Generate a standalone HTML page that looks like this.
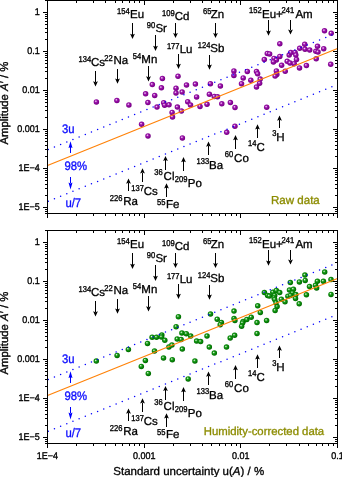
<!DOCTYPE html>
<html><head><meta charset="utf-8"><style>
html,body{margin:0;padding:0;background:#fff;width:342px;height:477px;overflow:hidden}
svg{display:block;will-change:transform}
text{font-family:"Liberation Sans", sans-serif;fill:#000;stroke:#000;stroke-width:0.32px;text-rendering:geometricPrecision}
</style></head><body>
<svg width="342" height="477" viewBox="0 0 342 477">
<defs>
<radialGradient id="gp" cx="0.45" cy="0.45" r="0.58" fx="0.38" fy="0.36">
<stop offset="0" stop-color="#fff0ff"/><stop offset="0.16" stop-color="#d890e0"/><stop offset="0.38" stop-color="#9a18aa"/><stop offset="0.8" stop-color="#820090"/><stop offset="1" stop-color="#6a0078"/>
</radialGradient>
<radialGradient id="gg" cx="0.45" cy="0.45" r="0.58" fx="0.38" fy="0.36">
<stop offset="0" stop-color="#f4fff4"/><stop offset="0.16" stop-color="#90d090"/><stop offset="0.38" stop-color="#189818"/><stop offset="0.8" stop-color="#007800"/><stop offset="1" stop-color="#005800"/>
</radialGradient>
</defs>
<g fill="url(#gp)"><circle cx="96.4" cy="101.9" r="2.75"/><circle cx="116.9" cy="100.5" r="2.75"/><circle cx="128.9" cy="104.9" r="2.75"/><circle cx="141.6" cy="124.2" r="2.75"/><circle cx="148.0" cy="135.9" r="2.75"/><circle cx="162.4" cy="78.5" r="2.75"/><circle cx="178" cy="76.2" r="2.75"/><circle cx="152.3" cy="84.6" r="2.75"/><circle cx="161.4" cy="87.8" r="2.75"/><circle cx="176" cy="88.2" r="2.75"/><circle cx="186.5" cy="85" r="2.75"/><circle cx="195.4" cy="84.1" r="2.75"/><circle cx="145.6" cy="93.8" r="2.75"/><circle cx="154.7" cy="95.4" r="2.75"/><circle cx="176" cy="92.9" r="2.75"/><circle cx="182.1" cy="92" r="2.75"/><circle cx="196.6" cy="96.9" r="2.75"/><circle cx="147.9" cy="102.5" r="2.75"/><circle cx="163.7" cy="102.7" r="2.75"/><circle cx="164.6" cy="105.2" r="2.75"/><circle cx="169" cy="104.8" r="2.75"/><circle cx="157" cy="107.1" r="2.75"/><circle cx="187.7" cy="101.7" r="2.75"/><circle cx="190.5" cy="105" r="2.75"/><circle cx="177.4" cy="107.1" r="2.75"/><circle cx="181.4" cy="111" r="2.75"/><circle cx="172.1" cy="112.4" r="2.75"/><circle cx="172.5" cy="117.1" r="2.75"/><circle cx="200" cy="106.5" r="2.75"/><circle cx="210.4" cy="83.7" r="2.75"/><circle cx="220.4" cy="86" r="2.75"/><circle cx="233.9" cy="70.9" r="2.75"/><circle cx="233.9" cy="75.4" r="2.75"/><circle cx="247.3" cy="71.4" r="2.75"/><circle cx="243.2" cy="77.9" r="2.75"/><circle cx="250.8" cy="80.2" r="2.75"/><circle cx="241.5" cy="83.7" r="2.75"/><circle cx="209.4" cy="94.2" r="2.75"/><circle cx="214.3" cy="96.5" r="2.75"/><circle cx="217.5" cy="96.8" r="2.75"/><circle cx="207" cy="104.2" r="2.75"/><circle cx="221.8" cy="103.8" r="2.75"/><circle cx="230.4" cy="102.5" r="2.75"/><circle cx="235" cy="107.5" r="2.75"/><circle cx="256.5" cy="87" r="2.75"/><circle cx="256.5" cy="71.5" r="2.75"/><circle cx="257.6" cy="73.8" r="2.75"/><circle cx="279.8" cy="43.8" r="2.75"/><circle cx="267.3" cy="53.5" r="2.75"/><circle cx="269.6" cy="53.9" r="2.75"/><circle cx="264.3" cy="59.6" r="2.75"/><circle cx="274" cy="58.4" r="2.75"/><circle cx="279.8" cy="56.4" r="2.75"/><circle cx="276.3" cy="60.1" r="2.75"/><circle cx="273.4" cy="61.9" r="2.75"/><circle cx="289.2" cy="55" r="2.75"/><circle cx="287.2" cy="61.3" r="2.75"/><circle cx="281.6" cy="65.2" r="2.75"/><circle cx="276.4" cy="70.9" r="2.75"/><circle cx="285.2" cy="71.3" r="2.75"/><circle cx="324.5" cy="30.8" r="2.75"/><circle cx="331.2" cy="33.3" r="2.75"/><circle cx="304.7" cy="44.2" r="2.75"/><circle cx="299.7" cy="48.3" r="2.75"/><circle cx="305" cy="49.2" r="2.75"/><circle cx="309.7" cy="50" r="2.75"/><circle cx="317.5" cy="46.2" r="2.75"/><circle cx="315.8" cy="51.3" r="2.75"/><circle cx="318" cy="52" r="2.75"/><circle cx="323.7" cy="48.7" r="2.75"/><circle cx="290.8" cy="52.5" r="2.75"/><circle cx="295" cy="52.5" r="2.75"/><circle cx="295.8" cy="55" r="2.75"/><circle cx="296.5" cy="59.5" r="2.75"/><circle cx="290" cy="63" r="2.75"/><circle cx="294.2" cy="63.7" r="2.75"/><circle cx="299.5" cy="67.9" r="2.75"/><circle cx="306.4" cy="65.5" r="2.75"/><circle cx="316.2" cy="58.8" r="2.75"/><circle cx="330.7" cy="64.3" r="2.75"/><circle cx="260.2" cy="79.1" r="2.75"/><circle cx="259.6" cy="83.2" r="2.75"/><circle cx="276.8" cy="74.4" r="2.75"/><circle cx="275.1" cy="76.1" r="2.75"/><circle cx="266.7" cy="107.2" r="2.75"/><circle cx="234.9" cy="126.2" r="2.75"/><circle cx="226.7" cy="132.3" r="2.75"/><circle cx="182.4" cy="137.9" r="2.75"/></g>
<line x1="47.5" y1="165.50" x2="337.5" y2="48.50" stroke="#ff8208" stroke-width="1.2"/>
<g fill="#0000ff"><circle cx="48.30" cy="149.38" r="0.75"/><circle cx="54.46" cy="146.89" r="0.75"/><circle cx="60.63" cy="144.40" r="0.75"/><circle cx="66.80" cy="141.92" r="0.75"/><circle cx="72.96" cy="139.43" r="0.75"/><circle cx="79.12" cy="136.94" r="0.75"/><circle cx="85.29" cy="134.45" r="0.75"/><circle cx="91.45" cy="131.97" r="0.75"/><circle cx="97.62" cy="129.48" r="0.75"/><circle cx="103.78" cy="126.99" r="0.75"/><circle cx="109.95" cy="124.50" r="0.75"/><circle cx="116.11" cy="122.02" r="0.75"/><circle cx="122.28" cy="119.53" r="0.75"/><circle cx="128.44" cy="117.04" r="0.75"/><circle cx="134.61" cy="114.56" r="0.75"/><circle cx="140.77" cy="112.07" r="0.75"/><circle cx="146.94" cy="109.58" r="0.75"/><circle cx="153.11" cy="107.09" r="0.75"/><circle cx="159.27" cy="104.61" r="0.75"/><circle cx="165.44" cy="102.12" r="0.75"/><circle cx="171.60" cy="99.63" r="0.75"/><circle cx="177.76" cy="97.14" r="0.75"/><circle cx="183.93" cy="94.66" r="0.75"/><circle cx="190.09" cy="92.17" r="0.75"/><circle cx="196.26" cy="89.68" r="0.75"/><circle cx="202.43" cy="87.20" r="0.75"/><circle cx="208.59" cy="84.71" r="0.75"/><circle cx="214.75" cy="82.22" r="0.75"/><circle cx="220.92" cy="79.73" r="0.75"/><circle cx="227.08" cy="77.25" r="0.75"/><circle cx="233.25" cy="74.76" r="0.75"/><circle cx="239.42" cy="72.27" r="0.75"/><circle cx="245.58" cy="69.78" r="0.75"/><circle cx="251.75" cy="67.30" r="0.75"/><circle cx="257.91" cy="64.81" r="0.75"/><circle cx="264.07" cy="62.32" r="0.75"/><circle cx="270.24" cy="59.84" r="0.75"/><circle cx="276.40" cy="57.35" r="0.75"/><circle cx="282.57" cy="54.86" r="0.75"/><circle cx="288.74" cy="52.37" r="0.75"/><circle cx="294.90" cy="49.89" r="0.75"/><circle cx="301.06" cy="47.40" r="0.75"/><circle cx="307.23" cy="44.91" r="0.75"/><circle cx="313.40" cy="42.43" r="0.75"/><circle cx="319.56" cy="39.94" r="0.75"/><circle cx="325.73" cy="37.45" r="0.75"/><circle cx="331.89" cy="34.96" r="0.75"/><circle cx="48.30" cy="201.28" r="0.75"/><circle cx="54.46" cy="198.79" r="0.75"/><circle cx="60.63" cy="196.30" r="0.75"/><circle cx="66.80" cy="193.82" r="0.75"/><circle cx="72.96" cy="191.33" r="0.75"/><circle cx="79.12" cy="188.84" r="0.75"/><circle cx="85.29" cy="186.35" r="0.75"/><circle cx="91.45" cy="183.87" r="0.75"/><circle cx="97.62" cy="181.38" r="0.75"/><circle cx="103.78" cy="178.89" r="0.75"/><circle cx="109.95" cy="176.40" r="0.75"/><circle cx="116.11" cy="173.92" r="0.75"/><circle cx="122.28" cy="171.43" r="0.75"/><circle cx="128.44" cy="168.94" r="0.75"/><circle cx="134.61" cy="166.46" r="0.75"/><circle cx="140.77" cy="163.97" r="0.75"/><circle cx="146.94" cy="161.48" r="0.75"/><circle cx="153.11" cy="158.99" r="0.75"/><circle cx="159.27" cy="156.51" r="0.75"/><circle cx="165.44" cy="154.02" r="0.75"/><circle cx="171.60" cy="151.53" r="0.75"/><circle cx="177.76" cy="149.04" r="0.75"/><circle cx="183.93" cy="146.56" r="0.75"/><circle cx="190.09" cy="144.07" r="0.75"/><circle cx="196.26" cy="141.58" r="0.75"/><circle cx="202.43" cy="139.10" r="0.75"/><circle cx="208.59" cy="136.61" r="0.75"/><circle cx="214.75" cy="134.12" r="0.75"/><circle cx="220.92" cy="131.63" r="0.75"/><circle cx="227.08" cy="129.15" r="0.75"/><circle cx="233.25" cy="126.66" r="0.75"/><circle cx="239.42" cy="124.17" r="0.75"/><circle cx="245.58" cy="121.68" r="0.75"/><circle cx="251.75" cy="119.20" r="0.75"/><circle cx="257.91" cy="116.71" r="0.75"/><circle cx="264.07" cy="114.22" r="0.75"/><circle cx="270.24" cy="111.74" r="0.75"/><circle cx="276.40" cy="109.25" r="0.75"/><circle cx="282.57" cy="106.76" r="0.75"/><circle cx="288.74" cy="104.27" r="0.75"/><circle cx="294.90" cy="101.79" r="0.75"/><circle cx="301.06" cy="99.30" r="0.75"/><circle cx="307.23" cy="96.81" r="0.75"/><circle cx="313.40" cy="94.33" r="0.75"/><circle cx="319.56" cy="91.84" r="0.75"/><circle cx="325.73" cy="89.35" r="0.75"/><circle cx="331.89" cy="86.86" r="0.75"/></g>
<rect x="47.5" y="0.5" width="290.0" height="213.0" fill="none" stroke="#000" stroke-width="1" shape-rendering="crispEdges"/>
<path d="M47.5 213.5v4.5M47.5 0.5v4.5M76.5 213.5v2.5M76.5 0.5v2.5M93.5 213.5v2.5M93.5 0.5v2.5M105.5 213.5v2.5M105.5 0.5v2.5M115.5 213.5v2.5M115.5 0.5v2.5M122.5 213.5v2.5M122.5 0.5v2.5M129.5 213.5v2.5M129.5 0.5v2.5M134.5 213.5v2.5M134.5 0.5v2.5M139.5 213.5v2.5M139.5 0.5v2.5M144.5 213.5v4.5M144.5 0.5v4.5M173.5 213.5v2.5M173.5 0.5v2.5M190.5 213.5v2.5M190.5 0.5v2.5M202.5 213.5v2.5M202.5 0.5v2.5M211.5 213.5v2.5M211.5 0.5v2.5M219.5 213.5v2.5M219.5 0.5v2.5M225.5 213.5v2.5M225.5 0.5v2.5M231.5 213.5v2.5M231.5 0.5v2.5M236.5 213.5v2.5M236.5 0.5v2.5M240.5 213.5v4.5M240.5 0.5v4.5M269.5 213.5v2.5M269.5 0.5v2.5M286.5 213.5v2.5M286.5 0.5v2.5M299.5 213.5v2.5M299.5 0.5v2.5M308.5 213.5v2.5M308.5 0.5v2.5M316.5 213.5v2.5M316.5 0.5v2.5M322.5 213.5v2.5M322.5 0.5v2.5M328.5 213.5v2.5M328.5 0.5v2.5M333.5 213.5v2.5M333.5 0.5v2.5M337.5 213.5v4.5M337.5 0.5v4.5M47.5 213.5h-2.5M337.5 213.5h-2.5M47.5 211.5h-2.5M337.5 211.5h-2.5M47.5 209.5h-2.5M337.5 209.5h-2.5M47.5 207.5h-4.5M337.5 207.5h-4.5M47.5 195.5h-2.5M337.5 195.5h-2.5M47.5 188.5h-2.5M337.5 188.5h-2.5M47.5 184.5h-2.5M337.5 184.5h-2.5M47.5 180.5h-2.5M337.5 180.5h-2.5M47.5 177.5h-2.5M337.5 177.5h-2.5M47.5 174.5h-2.5M337.5 174.5h-2.5M47.5 172.5h-2.5M337.5 172.5h-2.5M47.5 170.5h-2.5M337.5 170.5h-2.5M47.5 168.5h-4.5M337.5 168.5h-4.5M47.5 156.5h-2.5M337.5 156.5h-2.5M47.5 149.5h-2.5M337.5 149.5h-2.5M47.5 145.5h-2.5M337.5 145.5h-2.5M47.5 141.5h-2.5M337.5 141.5h-2.5M47.5 138.5h-2.5M337.5 138.5h-2.5M47.5 135.5h-2.5M337.5 135.5h-2.5M47.5 133.5h-2.5M337.5 133.5h-2.5M47.5 131.5h-2.5M337.5 131.5h-2.5M47.5 129.5h-4.5M337.5 129.5h-4.5M47.5 117.5h-2.5M337.5 117.5h-2.5M47.5 110.5h-2.5M337.5 110.5h-2.5M47.5 106.5h-2.5M337.5 106.5h-2.5M47.5 102.5h-2.5M337.5 102.5h-2.5M47.5 99.5h-2.5M337.5 99.5h-2.5M47.5 96.5h-2.5M337.5 96.5h-2.5M47.5 94.5h-2.5M337.5 94.5h-2.5M47.5 92.5h-2.5M337.5 92.5h-2.5M47.5 90.5h-4.5M337.5 90.5h-4.5M47.5 78.5h-2.5M337.5 78.5h-2.5M47.5 71.5h-2.5M337.5 71.5h-2.5M47.5 67.5h-2.5M337.5 67.5h-2.5M47.5 63.5h-2.5M337.5 63.5h-2.5M47.5 60.5h-2.5M337.5 60.5h-2.5M47.5 57.5h-2.5M337.5 57.5h-2.5M47.5 55.5h-2.5M337.5 55.5h-2.5M47.5 53.5h-2.5M337.5 53.5h-2.5M47.5 51.5h-4.5M337.5 51.5h-4.5M47.5 39.5h-2.5M337.5 39.5h-2.5M47.5 32.5h-2.5M337.5 32.5h-2.5M47.5 28.5h-2.5M337.5 28.5h-2.5M47.5 24.5h-2.5M337.5 24.5h-2.5M47.5 21.5h-2.5M337.5 21.5h-2.5M47.5 18.5h-2.5M337.5 18.5h-2.5M47.5 16.5h-2.5M337.5 16.5h-2.5M47.5 14.5h-2.5M337.5 14.5h-2.5M47.5 12.5h-4.5M337.5 12.5h-4.5M47.5 0.5h-2.5M337.5 0.5h-2.5" stroke="#000" stroke-width="1" fill="none" shape-rendering="crispEdges"/>
<text transform="translate(39.7 15.00) scale(1 1.08)" text-anchor="end" font-size="9">1</text>
<text transform="translate(39.7 54.00) scale(1 1.08)" text-anchor="end" font-size="9">0.1</text>
<text transform="translate(39.7 93.00) scale(1 1.08)" text-anchor="end" font-size="9">0.01</text>
<text transform="translate(39.7 132.00) scale(1 1.08)" text-anchor="end" font-size="9">0.001</text>
<text transform="translate(39.7 171.00) scale(1 1.08)" text-anchor="end" font-size="9">1E−4</text>
<text transform="translate(39.7 210.00) scale(1 1.08)" text-anchor="end" font-size="9">1E−5</text>
<text transform="translate(8.4 103.1) rotate(-90)" text-anchor="middle" font-size="11.35">Amplitude <tspan font-style="italic">A</tspan>′ / %</text>
<text x="319.8" y="204.0" text-anchor="end" font-size="11.55" style="fill:#8c8c00;stroke:#8c8c00">Raw data</text>
<text transform="translate(117.10 13.60) scale(1 1.12)" font-size="7.6">154</text>
<text x="130.00" y="18.20" font-size="11.5">Eu</text>
<text transform="translate(146.80 27.60) scale(1 1.12)" font-size="7.6">90</text>
<text x="155.40" y="32.00" font-size="11.5">Sr</text>
<text transform="translate(162.00 15.60) scale(1 1.12)" font-size="7.6">109</text>
<text x="174.70" y="19.70" font-size="11.5">Cd</text>
<text transform="translate(203.00 13.60) scale(1 1.12)" font-size="7.6">65</text>
<text x="210.80" y="17.50" font-size="11.5">Zn</text>
<text transform="translate(166.90 49.20) scale(1 1.12)" font-size="7.6">177</text>
<text x="179.70" y="53.10" font-size="11.5">Lu</text>
<text transform="translate(197.70 48.10) scale(1 1.12)" font-size="7.6">124</text>
<text x="210.30" y="52.40" font-size="11.5">Sb</text>
<text transform="translate(249.10 12.70) scale(1 1.12)" font-size="7.6">152</text>
<text x="262.00" y="17.70" font-size="11.5">Eu+</text>
<text transform="translate(281.50 13.00) scale(1 1.12)" font-size="7.6">241</text>
<text x="295.40" y="17.80" font-size="11.5">Am</text>
<text transform="translate(78.60 61.70) scale(1 1.12)" font-size="7.6">134</text>
<text x="90.90" y="66.00" font-size="11.5">Cs</text>
<text transform="translate(104.20 60.80) scale(1 1.12)" font-size="7.6">22</text>
<text x="113.40" y="64.20" font-size="11.5">Na</text>
<text transform="translate(132.70 58.80) scale(1 1.12)" font-size="7.6">54</text>
<text x="141.30" y="62.60" font-size="11.5">Mn</text>
<text transform="translate(196.50 164.10) scale(1 1.12)" font-size="7.6">133</text>
<text x="209.00" y="168.70" font-size="11.5">Ba</text>
<text transform="translate(224.70 157.30) scale(1 1.12)" font-size="7.6">60</text>
<text x="234.10" y="161.60" font-size="11.5">Co</text>
<text transform="translate(248.10 145.90) scale(1 1.12)" font-size="7.6">14</text>
<text x="256.50" y="151.00" font-size="11.5">C</text>
<text transform="translate(272.20 136.10) scale(1 1.12)" font-size="7.6">3</text>
<text x="276.20" y="140.50" font-size="11.5">H</text>
<text transform="translate(109.80 201.30) scale(1 1.12)" font-size="7.6">226</text>
<text x="123.30" y="204.80" font-size="11.5">Ra</text>
<text transform="translate(131.20 190.80) scale(1 1.12)" font-size="7.6">137</text>
<text x="143.80" y="194.70" font-size="11.5">Cs</text>
<text transform="translate(154.20 175.40) scale(1 1.12)" font-size="7.6">36</text>
<text x="163.60" y="179.50" font-size="11.5">Cl</text>
<text transform="translate(174.80 182.30) scale(1 1.12)" font-size="7.6">209</text>
<text x="187.80" y="187.10" font-size="11.5">Po</text>
<text transform="translate(157.10 204.60) scale(1 1.12)" font-size="7.6">55</text>
<text x="165.90" y="208.40" font-size="11.5">Fe</text>
<line x1="132.5" y1="23.00" x2="132.5" y2="34.80" stroke="#000" stroke-width="1" shape-rendering="crispEdges"/><path d="M132.5 39.00L130.10 33.80L132.5 34.80L134.90 33.80Z" fill="#000"/>
<line x1="155.5" y1="34.80" x2="155.5" y2="46.70" stroke="#000" stroke-width="1" shape-rendering="crispEdges"/><path d="M155.5 50.90L153.10 45.70L155.5 46.70L157.90 45.70Z" fill="#000"/>
<line x1="175.5" y1="23.00" x2="175.5" y2="33.90" stroke="#000" stroke-width="1" shape-rendering="crispEdges"/><path d="M175.5 38.10L173.10 32.90L175.5 33.90L177.90 32.90Z" fill="#000"/>
<line x1="215.5" y1="23.00" x2="215.5" y2="33.90" stroke="#000" stroke-width="1" shape-rendering="crispEdges"/><path d="M215.5 38.10L213.10 32.90L215.5 33.90L217.90 32.90Z" fill="#000"/>
<line x1="178.5" y1="53.80" x2="178.5" y2="64.70" stroke="#000" stroke-width="1" shape-rendering="crispEdges"/><path d="M178.5 68.90L176.10 63.70L178.5 64.70L180.90 63.70Z" fill="#000"/>
<line x1="209.5" y1="55.00" x2="209.5" y2="65.50" stroke="#000" stroke-width="1" shape-rendering="crispEdges"/><path d="M209.5 69.70L207.10 64.50L209.5 65.50L211.90 64.50Z" fill="#000"/>
<line x1="268.5" y1="19.90" x2="268.5" y2="31.50" stroke="#000" stroke-width="1" shape-rendering="crispEdges"/><path d="M268.5 35.70L266.10 30.50L268.5 31.50L270.90 30.50Z" fill="#000"/>
<line x1="290.5" y1="19.90" x2="290.5" y2="30.40" stroke="#000" stroke-width="1" shape-rendering="crispEdges"/><path d="M290.5 34.60L288.10 29.40L290.5 30.40L292.90 29.40Z" fill="#000"/>
<line x1="95.5" y1="71.00" x2="95.5" y2="82.30" stroke="#000" stroke-width="1" shape-rendering="crispEdges"/><path d="M95.5 86.50L93.10 81.30L95.5 82.30L97.90 81.30Z" fill="#000"/>
<line x1="117.5" y1="69.00" x2="117.5" y2="79.60" stroke="#000" stroke-width="1" shape-rendering="crispEdges"/><path d="M117.5 83.80L115.10 78.60L117.5 79.60L119.90 78.60Z" fill="#000"/>
<line x1="148.5" y1="66.30" x2="148.5" y2="77.30" stroke="#000" stroke-width="1" shape-rendering="crispEdges"/><path d="M148.5 81.50L146.10 76.30L148.5 77.30L150.90 76.30Z" fill="#000"/>
<line x1="208.5" y1="154.80" x2="208.5" y2="145.70" stroke="#000" stroke-width="1" shape-rendering="crispEdges"/><path d="M208.5 141.50L206.10 146.70L208.5 145.70L210.90 146.70Z" fill="#000"/>
<line x1="235.5" y1="149.00" x2="235.5" y2="139.20" stroke="#000" stroke-width="1" shape-rendering="crispEdges"/><path d="M235.5 135.00L233.10 140.20L235.5 139.20L237.90 140.20Z" fill="#000"/>
<line x1="257.5" y1="137.70" x2="257.5" y2="128.40" stroke="#000" stroke-width="1" shape-rendering="crispEdges"/><path d="M257.5 124.20L255.10 129.40L257.5 128.40L259.90 129.40Z" fill="#000"/>
<line x1="279.5" y1="128.40" x2="279.5" y2="119.80" stroke="#000" stroke-width="1" shape-rendering="crispEdges"/><path d="M279.5 115.60L277.10 120.80L279.5 119.80L281.90 120.80Z" fill="#000"/>
<line x1="128.5" y1="191.40" x2="128.5" y2="182.70" stroke="#000" stroke-width="1" shape-rendering="crispEdges"/><path d="M128.5 178.50L126.10 183.70L128.5 182.70L130.90 183.70Z" fill="#000"/>
<line x1="142.5" y1="181.70" x2="142.5" y2="172.50" stroke="#000" stroke-width="1" shape-rendering="crispEdges"/><path d="M142.5 168.30L140.10 173.50L142.5 172.50L144.90 173.50Z" fill="#000"/>
<line x1="165.5" y1="169.60" x2="165.5" y2="160.10" stroke="#000" stroke-width="1" shape-rendering="crispEdges"/><path d="M165.5 155.90L163.10 161.10L165.5 160.10L167.90 161.10Z" fill="#000"/>
<line x1="183.5" y1="170.60" x2="183.5" y2="161.20" stroke="#000" stroke-width="1" shape-rendering="crispEdges"/><path d="M183.5 157.00L181.10 162.20L183.5 161.20L185.90 162.20Z" fill="#000"/>
<line x1="166.5" y1="196.60" x2="166.5" y2="187.40" stroke="#000" stroke-width="1" shape-rendering="crispEdges"/><path d="M166.5 183.20L164.10 188.40L166.5 187.40L168.90 188.40Z" fill="#000"/>
<text transform="translate(62.0 132.5) scale(1 1.1)" font-size="11.3" style="fill:#1010ff;stroke:#1010ff">3u</text>
<text transform="translate(64.5 169.5) scale(1 1.1)" font-size="11.3" style="fill:#1010ff;stroke:#1010ff">98%</text>
<text transform="translate(65.4 206.8) scale(1 1.1)" font-size="11.3" style="fill:#1010ff;stroke:#1010ff">u/7</text>
<line x1="70.5" y1="153.00" x2="70.5" y2="147.30" stroke="#0000ff" stroke-width="1" shape-rendering="crispEdges"/><path d="M70.5 141.30L68.50 148.10L70.5 147.30L72.50 148.10Z" fill="#0000ff"/>
<line x1="70.5" y1="176.70" x2="70.5" y2="183.40" stroke="#0000ff" stroke-width="1" shape-rendering="crispEdges"/><path d="M70.5 189.40L68.50 182.60L70.5 183.40L72.50 182.60Z" fill="#0000ff"/>
<g fill="url(#gg)"><circle cx="96.3" cy="361.1" r="2.75"/><circle cx="117.1" cy="355.4" r="2.75"/><circle cx="128.4" cy="349.4" r="2.75"/><circle cx="147.5" cy="343.4" r="2.75"/><circle cx="152.1" cy="337.2" r="2.75"/><circle cx="156.5" cy="337.2" r="2.75"/><circle cx="161.8" cy="335" r="2.75"/><circle cx="161.5" cy="337" r="2.75"/><circle cx="164.8" cy="340.3" r="2.75"/><circle cx="154.5" cy="351" r="2.75"/><circle cx="168.9" cy="347.1" r="2.75"/><circle cx="163.5" cy="358" r="2.75"/><circle cx="145.4" cy="360.4" r="2.75"/><circle cx="141.3" cy="366.4" r="2.75"/><circle cx="148.3" cy="373.4" r="2.75"/><circle cx="178.4" cy="316.7" r="2.75"/><circle cx="176.1" cy="326.7" r="2.75"/><circle cx="210.5" cy="314" r="2.75"/><circle cx="217.2" cy="319.2" r="2.75"/><circle cx="221.4" cy="322.5" r="2.75"/><circle cx="220.2" cy="324.7" r="2.75"/><circle cx="181.9" cy="333" r="2.75"/><circle cx="186.3" cy="333.7" r="2.75"/><circle cx="190.7" cy="336" r="2.75"/><circle cx="177.2" cy="339" r="2.75"/><circle cx="181.1" cy="339.5" r="2.75"/><circle cx="207" cy="336" r="2.75"/><circle cx="196.6" cy="341" r="2.75"/><circle cx="200.6" cy="341.6" r="2.75"/><circle cx="171.9" cy="345" r="2.75"/><circle cx="182.3" cy="349.1" r="2.75"/><circle cx="209.3" cy="347.1" r="2.75"/><circle cx="214.3" cy="353.1" r="2.75"/><circle cx="172.3" cy="359.7" r="2.75"/><circle cx="194.9" cy="361" r="2.75"/><circle cx="226.5" cy="347.1" r="2.75"/><circle cx="188.2" cy="378.9" r="2.75"/><circle cx="264.4" cy="292.6" r="2.75"/><circle cx="267.6" cy="295.4" r="2.75"/><circle cx="269.3" cy="296.1" r="2.75"/><circle cx="234" cy="311.1" r="2.75"/><circle cx="257.7" cy="305.8" r="2.75"/><circle cx="260.3" cy="312.5" r="2.75"/><circle cx="277.1" cy="306.4" r="2.75"/><circle cx="275.1" cy="310.5" r="2.75"/><circle cx="234" cy="318.6" r="2.75"/><circle cx="234.9" cy="320.4" r="2.75"/><circle cx="243.1" cy="321.5" r="2.75"/><circle cx="242.5" cy="323" r="2.75"/><circle cx="246.8" cy="319.5" r="2.75"/><circle cx="251.2" cy="317.2" r="2.75"/><circle cx="241.6" cy="326.2" r="2.75"/><circle cx="257" cy="322.6" r="2.75"/><circle cx="266.6" cy="320.5" r="2.75"/><circle cx="257" cy="333.5" r="2.75"/><circle cx="234.6" cy="335.3" r="2.75"/><circle cx="230.2" cy="338" r="2.75"/><circle cx="290.3" cy="282.6" r="2.75"/><circle cx="272.8" cy="292.2" r="2.75"/><circle cx="276.3" cy="290.5" r="2.75"/><circle cx="279.7" cy="292.6" r="2.75"/><circle cx="274.7" cy="295.5" r="2.75"/><circle cx="274.1" cy="297.9" r="2.75"/><circle cx="274.7" cy="299.5" r="2.75"/><circle cx="281.3" cy="299.2" r="2.75"/><circle cx="285" cy="301.8" r="2.75"/><circle cx="289.5" cy="290" r="2.75"/><circle cx="293.4" cy="289.2" r="2.75"/><circle cx="292.5" cy="292.9" r="2.75"/><circle cx="287.9" cy="296.2" r="2.75"/><circle cx="290.5" cy="295.5" r="2.75"/><circle cx="295.8" cy="294.6" r="2.75"/><circle cx="295.5" cy="298.4" r="2.75"/><circle cx="276" cy="302.8" r="2.75"/><circle cx="299.2" cy="303.8" r="2.75"/><circle cx="324.7" cy="272" r="2.75"/><circle cx="304.9" cy="275.1" r="2.75"/><circle cx="305.2" cy="280.4" r="2.75"/><circle cx="299.4" cy="281.9" r="2.75"/><circle cx="317.4" cy="281.2" r="2.75"/><circle cx="323.4" cy="281.2" r="2.75"/><circle cx="331" cy="279.6" r="2.75"/><circle cx="309.5" cy="286.5" r="2.75"/><circle cx="315.5" cy="285.3" r="2.75"/><circle cx="316.6" cy="288" r="2.75"/><circle cx="306.4" cy="294.8" r="2.75"/><circle cx="331" cy="294.4" r="2.75"/></g>
<line x1="47.5" y1="395.50" x2="337.5" y2="278.50" stroke="#ff8208" stroke-width="1.2"/>
<g fill="#0000ff"><circle cx="48.30" cy="379.38" r="0.75"/><circle cx="54.46" cy="376.89" r="0.75"/><circle cx="60.63" cy="374.40" r="0.75"/><circle cx="66.80" cy="371.92" r="0.75"/><circle cx="72.96" cy="369.43" r="0.75"/><circle cx="79.12" cy="366.94" r="0.75"/><circle cx="85.29" cy="364.45" r="0.75"/><circle cx="91.45" cy="361.97" r="0.75"/><circle cx="97.62" cy="359.48" r="0.75"/><circle cx="103.78" cy="356.99" r="0.75"/><circle cx="109.95" cy="354.50" r="0.75"/><circle cx="116.11" cy="352.02" r="0.75"/><circle cx="122.28" cy="349.53" r="0.75"/><circle cx="128.44" cy="347.04" r="0.75"/><circle cx="134.61" cy="344.56" r="0.75"/><circle cx="140.77" cy="342.07" r="0.75"/><circle cx="146.94" cy="339.58" r="0.75"/><circle cx="153.11" cy="337.09" r="0.75"/><circle cx="159.27" cy="334.61" r="0.75"/><circle cx="165.44" cy="332.12" r="0.75"/><circle cx="171.60" cy="329.63" r="0.75"/><circle cx="177.76" cy="327.14" r="0.75"/><circle cx="183.93" cy="324.66" r="0.75"/><circle cx="190.09" cy="322.17" r="0.75"/><circle cx="196.26" cy="319.68" r="0.75"/><circle cx="202.43" cy="317.20" r="0.75"/><circle cx="208.59" cy="314.71" r="0.75"/><circle cx="214.75" cy="312.22" r="0.75"/><circle cx="220.92" cy="309.73" r="0.75"/><circle cx="227.08" cy="307.25" r="0.75"/><circle cx="233.25" cy="304.76" r="0.75"/><circle cx="239.42" cy="302.27" r="0.75"/><circle cx="245.58" cy="299.78" r="0.75"/><circle cx="251.75" cy="297.30" r="0.75"/><circle cx="257.91" cy="294.81" r="0.75"/><circle cx="264.07" cy="292.32" r="0.75"/><circle cx="270.24" cy="289.84" r="0.75"/><circle cx="276.40" cy="287.35" r="0.75"/><circle cx="282.57" cy="284.86" r="0.75"/><circle cx="288.74" cy="282.37" r="0.75"/><circle cx="294.90" cy="279.89" r="0.75"/><circle cx="301.06" cy="277.40" r="0.75"/><circle cx="307.23" cy="274.91" r="0.75"/><circle cx="313.40" cy="272.43" r="0.75"/><circle cx="319.56" cy="269.94" r="0.75"/><circle cx="325.73" cy="267.45" r="0.75"/><circle cx="331.89" cy="264.96" r="0.75"/><circle cx="48.30" cy="431.28" r="0.75"/><circle cx="54.46" cy="428.79" r="0.75"/><circle cx="60.63" cy="426.30" r="0.75"/><circle cx="66.80" cy="423.82" r="0.75"/><circle cx="72.96" cy="421.33" r="0.75"/><circle cx="79.12" cy="418.84" r="0.75"/><circle cx="85.29" cy="416.35" r="0.75"/><circle cx="91.45" cy="413.87" r="0.75"/><circle cx="97.62" cy="411.38" r="0.75"/><circle cx="103.78" cy="408.89" r="0.75"/><circle cx="109.95" cy="406.40" r="0.75"/><circle cx="116.11" cy="403.92" r="0.75"/><circle cx="122.28" cy="401.43" r="0.75"/><circle cx="128.44" cy="398.94" r="0.75"/><circle cx="134.61" cy="396.46" r="0.75"/><circle cx="140.77" cy="393.97" r="0.75"/><circle cx="146.94" cy="391.48" r="0.75"/><circle cx="153.11" cy="388.99" r="0.75"/><circle cx="159.27" cy="386.51" r="0.75"/><circle cx="165.44" cy="384.02" r="0.75"/><circle cx="171.60" cy="381.53" r="0.75"/><circle cx="177.76" cy="379.04" r="0.75"/><circle cx="183.93" cy="376.56" r="0.75"/><circle cx="190.09" cy="374.07" r="0.75"/><circle cx="196.26" cy="371.58" r="0.75"/><circle cx="202.43" cy="369.10" r="0.75"/><circle cx="208.59" cy="366.61" r="0.75"/><circle cx="214.75" cy="364.12" r="0.75"/><circle cx="220.92" cy="361.63" r="0.75"/><circle cx="227.08" cy="359.15" r="0.75"/><circle cx="233.25" cy="356.66" r="0.75"/><circle cx="239.42" cy="354.17" r="0.75"/><circle cx="245.58" cy="351.68" r="0.75"/><circle cx="251.75" cy="349.20" r="0.75"/><circle cx="257.91" cy="346.71" r="0.75"/><circle cx="264.07" cy="344.22" r="0.75"/><circle cx="270.24" cy="341.74" r="0.75"/><circle cx="276.40" cy="339.25" r="0.75"/><circle cx="282.57" cy="336.76" r="0.75"/><circle cx="288.74" cy="334.27" r="0.75"/><circle cx="294.90" cy="331.79" r="0.75"/><circle cx="301.06" cy="329.30" r="0.75"/><circle cx="307.23" cy="326.81" r="0.75"/><circle cx="313.40" cy="324.33" r="0.75"/><circle cx="319.56" cy="321.84" r="0.75"/><circle cx="325.73" cy="319.35" r="0.75"/><circle cx="331.89" cy="316.86" r="0.75"/></g>
<rect x="47.5" y="230.5" width="290.0" height="213.0" fill="none" stroke="#000" stroke-width="1" shape-rendering="crispEdges"/>
<path d="M47.5 443.5v4.5M47.5 230.5v4.5M76.5 443.5v2.5M76.5 230.5v2.5M93.5 443.5v2.5M93.5 230.5v2.5M105.5 443.5v2.5M105.5 230.5v2.5M115.5 443.5v2.5M115.5 230.5v2.5M122.5 443.5v2.5M122.5 230.5v2.5M129.5 443.5v2.5M129.5 230.5v2.5M134.5 443.5v2.5M134.5 230.5v2.5M139.5 443.5v2.5M139.5 230.5v2.5M144.5 443.5v4.5M144.5 230.5v4.5M173.5 443.5v2.5M173.5 230.5v2.5M190.5 443.5v2.5M190.5 230.5v2.5M202.5 443.5v2.5M202.5 230.5v2.5M211.5 443.5v2.5M211.5 230.5v2.5M219.5 443.5v2.5M219.5 230.5v2.5M225.5 443.5v2.5M225.5 230.5v2.5M231.5 443.5v2.5M231.5 230.5v2.5M236.5 443.5v2.5M236.5 230.5v2.5M240.5 443.5v4.5M240.5 230.5v4.5M269.5 443.5v2.5M269.5 230.5v2.5M286.5 443.5v2.5M286.5 230.5v2.5M299.5 443.5v2.5M299.5 230.5v2.5M308.5 443.5v2.5M308.5 230.5v2.5M316.5 443.5v2.5M316.5 230.5v2.5M322.5 443.5v2.5M322.5 230.5v2.5M328.5 443.5v2.5M328.5 230.5v2.5M333.5 443.5v2.5M333.5 230.5v2.5M337.5 443.5v4.5M337.5 230.5v4.5M47.5 443.5h-2.5M337.5 443.5h-2.5M47.5 441.5h-2.5M337.5 441.5h-2.5M47.5 439.5h-2.5M337.5 439.5h-2.5M47.5 437.5h-4.5M337.5 437.5h-4.5M47.5 425.5h-2.5M337.5 425.5h-2.5M47.5 418.5h-2.5M337.5 418.5h-2.5M47.5 414.5h-2.5M337.5 414.5h-2.5M47.5 410.5h-2.5M337.5 410.5h-2.5M47.5 407.5h-2.5M337.5 407.5h-2.5M47.5 404.5h-2.5M337.5 404.5h-2.5M47.5 402.5h-2.5M337.5 402.5h-2.5M47.5 400.5h-2.5M337.5 400.5h-2.5M47.5 398.5h-4.5M337.5 398.5h-4.5M47.5 386.5h-2.5M337.5 386.5h-2.5M47.5 379.5h-2.5M337.5 379.5h-2.5M47.5 375.5h-2.5M337.5 375.5h-2.5M47.5 371.5h-2.5M337.5 371.5h-2.5M47.5 368.5h-2.5M337.5 368.5h-2.5M47.5 365.5h-2.5M337.5 365.5h-2.5M47.5 363.5h-2.5M337.5 363.5h-2.5M47.5 361.5h-2.5M337.5 361.5h-2.5M47.5 359.5h-4.5M337.5 359.5h-4.5M47.5 347.5h-2.5M337.5 347.5h-2.5M47.5 340.5h-2.5M337.5 340.5h-2.5M47.5 336.5h-2.5M337.5 336.5h-2.5M47.5 332.5h-2.5M337.5 332.5h-2.5M47.5 329.5h-2.5M337.5 329.5h-2.5M47.5 326.5h-2.5M337.5 326.5h-2.5M47.5 324.5h-2.5M337.5 324.5h-2.5M47.5 322.5h-2.5M337.5 322.5h-2.5M47.5 320.5h-4.5M337.5 320.5h-4.5M47.5 308.5h-2.5M337.5 308.5h-2.5M47.5 301.5h-2.5M337.5 301.5h-2.5M47.5 297.5h-2.5M337.5 297.5h-2.5M47.5 293.5h-2.5M337.5 293.5h-2.5M47.5 290.5h-2.5M337.5 290.5h-2.5M47.5 287.5h-2.5M337.5 287.5h-2.5M47.5 285.5h-2.5M337.5 285.5h-2.5M47.5 283.5h-2.5M337.5 283.5h-2.5M47.5 281.5h-4.5M337.5 281.5h-4.5M47.5 269.5h-2.5M337.5 269.5h-2.5M47.5 262.5h-2.5M337.5 262.5h-2.5M47.5 258.5h-2.5M337.5 258.5h-2.5M47.5 254.5h-2.5M337.5 254.5h-2.5M47.5 251.5h-2.5M337.5 251.5h-2.5M47.5 248.5h-2.5M337.5 248.5h-2.5M47.5 246.5h-2.5M337.5 246.5h-2.5M47.5 244.5h-2.5M337.5 244.5h-2.5M47.5 242.5h-4.5M337.5 242.5h-4.5M47.5 230.5h-2.5M337.5 230.5h-2.5" stroke="#000" stroke-width="1" fill="none" shape-rendering="crispEdges"/>
<text transform="translate(39.7 245.00) scale(1 1.08)" text-anchor="end" font-size="9">1</text>
<text transform="translate(39.7 284.00) scale(1 1.08)" text-anchor="end" font-size="9">0.1</text>
<text transform="translate(39.7 323.00) scale(1 1.08)" text-anchor="end" font-size="9">0.01</text>
<text transform="translate(39.7 362.00) scale(1 1.08)" text-anchor="end" font-size="9">0.001</text>
<text transform="translate(39.7 401.00) scale(1 1.08)" text-anchor="end" font-size="9">1E−4</text>
<text transform="translate(39.7 440.00) scale(1 1.08)" text-anchor="end" font-size="9">1E−5</text>
<text transform="translate(8.4 333.1) rotate(-90)" text-anchor="middle" font-size="11.35">Amplitude <tspan font-style="italic">A</tspan>′ / %</text>
<text x="324.2" y="435.0" text-anchor="end" font-size="11.35" style="fill:#8c8c00;stroke:#8c8c00">Humidity-corrected data</text>
<text transform="translate(117.10 243.60) scale(1 1.12)" font-size="7.6">154</text>
<text x="130.00" y="248.20" font-size="11.5">Eu</text>
<text transform="translate(146.80 257.60) scale(1 1.12)" font-size="7.6">90</text>
<text x="155.40" y="262.00" font-size="11.5">Sr</text>
<text transform="translate(162.00 245.60) scale(1 1.12)" font-size="7.6">109</text>
<text x="174.70" y="249.70" font-size="11.5">Cd</text>
<text transform="translate(203.00 243.60) scale(1 1.12)" font-size="7.6">65</text>
<text x="210.80" y="247.50" font-size="11.5">Zn</text>
<text transform="translate(166.90 279.20) scale(1 1.12)" font-size="7.6">177</text>
<text x="179.70" y="283.10" font-size="11.5">Lu</text>
<text transform="translate(197.70 278.10) scale(1 1.12)" font-size="7.6">124</text>
<text x="210.30" y="282.40" font-size="11.5">Sb</text>
<text transform="translate(249.10 242.70) scale(1 1.12)" font-size="7.6">152</text>
<text x="262.00" y="247.70" font-size="11.5">Eu+</text>
<text transform="translate(281.50 243.00) scale(1 1.12)" font-size="7.6">241</text>
<text x="295.40" y="247.80" font-size="11.5">Am</text>
<text transform="translate(78.60 291.70) scale(1 1.12)" font-size="7.6">134</text>
<text x="90.90" y="296.00" font-size="11.5">Cs</text>
<text transform="translate(104.20 290.80) scale(1 1.12)" font-size="7.6">22</text>
<text x="113.40" y="294.20" font-size="11.5">Na</text>
<text transform="translate(132.70 288.80) scale(1 1.12)" font-size="7.6">54</text>
<text x="141.30" y="292.60" font-size="11.5">Mn</text>
<text transform="translate(196.50 394.10) scale(1 1.12)" font-size="7.6">133</text>
<text x="209.00" y="398.70" font-size="11.5">Ba</text>
<text transform="translate(224.70 387.30) scale(1 1.12)" font-size="7.6">60</text>
<text x="234.10" y="391.60" font-size="11.5">Co</text>
<text transform="translate(248.10 375.90) scale(1 1.12)" font-size="7.6">14</text>
<text x="256.50" y="381.00" font-size="11.5">C</text>
<text transform="translate(272.20 366.10) scale(1 1.12)" font-size="7.6">3</text>
<text x="276.20" y="370.50" font-size="11.5">H</text>
<text transform="translate(109.80 431.30) scale(1 1.12)" font-size="7.6">226</text>
<text x="123.30" y="434.80" font-size="11.5">Ra</text>
<text transform="translate(131.20 420.80) scale(1 1.12)" font-size="7.6">137</text>
<text x="143.80" y="424.70" font-size="11.5">Cs</text>
<text transform="translate(154.20 405.40) scale(1 1.12)" font-size="7.6">36</text>
<text x="163.60" y="409.50" font-size="11.5">Cl</text>
<text transform="translate(174.80 412.30) scale(1 1.12)" font-size="7.6">209</text>
<text x="187.80" y="417.10" font-size="11.5">Po</text>
<text transform="translate(157.10 434.60) scale(1 1.12)" font-size="7.6">55</text>
<text x="165.90" y="438.40" font-size="11.5">Fe</text>
<line x1="132.5" y1="253.00" x2="132.5" y2="264.80" stroke="#000" stroke-width="1" shape-rendering="crispEdges"/><path d="M132.5 269.00L130.10 263.80L132.5 264.80L134.90 263.80Z" fill="#000"/>
<line x1="155.5" y1="264.80" x2="155.5" y2="276.70" stroke="#000" stroke-width="1" shape-rendering="crispEdges"/><path d="M155.5 280.90L153.10 275.70L155.5 276.70L157.90 275.70Z" fill="#000"/>
<line x1="175.5" y1="253.00" x2="175.5" y2="263.90" stroke="#000" stroke-width="1" shape-rendering="crispEdges"/><path d="M175.5 268.10L173.10 262.90L175.5 263.90L177.90 262.90Z" fill="#000"/>
<line x1="215.5" y1="253.00" x2="215.5" y2="263.90" stroke="#000" stroke-width="1" shape-rendering="crispEdges"/><path d="M215.5 268.10L213.10 262.90L215.5 263.90L217.90 262.90Z" fill="#000"/>
<line x1="178.5" y1="283.80" x2="178.5" y2="294.70" stroke="#000" stroke-width="1" shape-rendering="crispEdges"/><path d="M178.5 298.90L176.10 293.70L178.5 294.70L180.90 293.70Z" fill="#000"/>
<line x1="209.5" y1="285.00" x2="209.5" y2="295.50" stroke="#000" stroke-width="1" shape-rendering="crispEdges"/><path d="M209.5 299.70L207.10 294.50L209.5 295.50L211.90 294.50Z" fill="#000"/>
<line x1="268.5" y1="249.90" x2="268.5" y2="261.50" stroke="#000" stroke-width="1" shape-rendering="crispEdges"/><path d="M268.5 265.70L266.10 260.50L268.5 261.50L270.90 260.50Z" fill="#000"/>
<line x1="290.5" y1="249.90" x2="290.5" y2="260.40" stroke="#000" stroke-width="1" shape-rendering="crispEdges"/><path d="M290.5 264.60L288.10 259.40L290.5 260.40L292.90 259.40Z" fill="#000"/>
<line x1="95.5" y1="301.00" x2="95.5" y2="312.30" stroke="#000" stroke-width="1" shape-rendering="crispEdges"/><path d="M95.5 316.50L93.10 311.30L95.5 312.30L97.90 311.30Z" fill="#000"/>
<line x1="117.5" y1="299.00" x2="117.5" y2="309.60" stroke="#000" stroke-width="1" shape-rendering="crispEdges"/><path d="M117.5 313.80L115.10 308.60L117.5 309.60L119.90 308.60Z" fill="#000"/>
<line x1="148.5" y1="296.30" x2="148.5" y2="307.30" stroke="#000" stroke-width="1" shape-rendering="crispEdges"/><path d="M148.5 311.50L146.10 306.30L148.5 307.30L150.90 306.30Z" fill="#000"/>
<line x1="208.5" y1="384.80" x2="208.5" y2="375.70" stroke="#000" stroke-width="1" shape-rendering="crispEdges"/><path d="M208.5 371.50L206.10 376.70L208.5 375.70L210.90 376.70Z" fill="#000"/>
<line x1="235.5" y1="379.00" x2="235.5" y2="369.20" stroke="#000" stroke-width="1" shape-rendering="crispEdges"/><path d="M235.5 365.00L233.10 370.20L235.5 369.20L237.90 370.20Z" fill="#000"/>
<line x1="257.5" y1="367.70" x2="257.5" y2="358.40" stroke="#000" stroke-width="1" shape-rendering="crispEdges"/><path d="M257.5 354.20L255.10 359.40L257.5 358.40L259.90 359.40Z" fill="#000"/>
<line x1="279.5" y1="358.40" x2="279.5" y2="349.80" stroke="#000" stroke-width="1" shape-rendering="crispEdges"/><path d="M279.5 345.60L277.10 350.80L279.5 349.80L281.90 350.80Z" fill="#000"/>
<line x1="128.5" y1="421.40" x2="128.5" y2="412.70" stroke="#000" stroke-width="1" shape-rendering="crispEdges"/><path d="M128.5 408.50L126.10 413.70L128.5 412.70L130.90 413.70Z" fill="#000"/>
<line x1="142.5" y1="411.70" x2="142.5" y2="402.50" stroke="#000" stroke-width="1" shape-rendering="crispEdges"/><path d="M142.5 398.30L140.10 403.50L142.5 402.50L144.90 403.50Z" fill="#000"/>
<line x1="165.5" y1="399.60" x2="165.5" y2="390.10" stroke="#000" stroke-width="1" shape-rendering="crispEdges"/><path d="M165.5 385.90L163.10 391.10L165.5 390.10L167.90 391.10Z" fill="#000"/>
<line x1="183.5" y1="400.60" x2="183.5" y2="391.20" stroke="#000" stroke-width="1" shape-rendering="crispEdges"/><path d="M183.5 387.00L181.10 392.20L183.5 391.20L185.90 392.20Z" fill="#000"/>
<line x1="166.5" y1="426.60" x2="166.5" y2="417.40" stroke="#000" stroke-width="1" shape-rendering="crispEdges"/><path d="M166.5 413.20L164.10 418.40L166.5 417.40L168.90 418.40Z" fill="#000"/>
<text transform="translate(62.0 362.5) scale(1 1.1)" font-size="11.3" style="fill:#1010ff;stroke:#1010ff">3u</text>
<text transform="translate(64.5 399.5) scale(1 1.1)" font-size="11.3" style="fill:#1010ff;stroke:#1010ff">98%</text>
<text transform="translate(65.4 436.8) scale(1 1.1)" font-size="11.3" style="fill:#1010ff;stroke:#1010ff">u/7</text>
<line x1="70.5" y1="383.00" x2="70.5" y2="377.30" stroke="#0000ff" stroke-width="1" shape-rendering="crispEdges"/><path d="M70.5 371.30L68.50 378.10L70.5 377.30L72.50 378.10Z" fill="#0000ff"/>
<line x1="70.5" y1="406.70" x2="70.5" y2="413.40" stroke="#0000ff" stroke-width="1" shape-rendering="crispEdges"/><path d="M70.5 419.40L68.50 412.60L70.5 413.40L72.50 412.60Z" fill="#0000ff"/>
<text transform="translate(47.50 458.5) scale(1 1.08)" text-anchor="middle" font-size="9">1E−4</text><text transform="translate(144.17 458.5) scale(1 1.08)" text-anchor="middle" font-size="9">0.001</text><text transform="translate(240.83 458.5) scale(1 1.08)" text-anchor="middle" font-size="9">0.01</text><text transform="translate(337.50 458.5) scale(1 1.08)" text-anchor="middle" font-size="9">0.1</text><text x="188.7" y="474.6" text-anchor="middle" font-size="11.5">Standard uncertainty u(<tspan font-style="italic">A</tspan>) / %</text>
</svg>
</body></html>
